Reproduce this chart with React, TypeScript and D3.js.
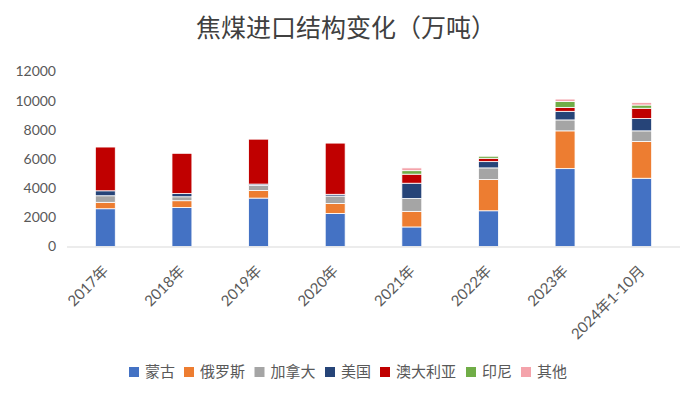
import * as d3 from "d3";
import React, { useEffect, useRef } from "react";

// Categories and series (万吨)
const categories = [
  "2017年",
  "2018年",
  "2019年",
  "2020年",
  "2021年",
  "2022年",
  "2023年",
  "2024年1-10月",
];
const mongolia = [2590, 2680, 3320, 2270, 1340, 2450, 5340, 4680];
const russia = [440, 460, 520, 680, 1070, 2140, 2590, 2520];
const canada = [450, 270, 340, 510, 880, 800, 750, 730];
const usa = [340, 220, 100, 120, 1050, 430, 590, 840];
const australia = [3000, 2760, 3080, 3510, 620, 230, 270, 710];
const indonesia = [0, 0, 0, 0, 240, 150, 410, 220];
const others = [0, 0, 0, 0, 190, 50, 160, 180];

const seriesNames = ["蒙古", "俄罗斯", "加拿大", "美国", "澳大利亚", "印尼", "其他"];
const seriesValues = [mongolia, russia, canada, usa, australia, indonesia, others];
const yTicks = [0, 2000, 4000, 6000, 8000, 10000, 12000];

const palette = [
  "#4472C4",
  "#ED7D31",
  "#A5A5A5",
  "#264478",
  "#C00000",
  "#70AD47",
  "#F4A3AB",
];

const CJK = '"Noto Sans CJK SC", "Noto Sans", sans-serif';
const NUM = 'Lato, "Noto Sans CJK SC", sans-serif';

const App: React.FC = () => {
  const svgRef = useRef<SVGSVGElement>(null);

  useEffect(() => {
    if (!svgRef.current) return;
    const width = 700;
    const height = 398;

    const svg = d3.select(svgRef.current);
    svg.selectAll("*").remove();
    svg.attr("width", width).attr("height", height).style("background", "#fff");

    const x = d3
      .scaleBand()
      .domain(categories)
      .range([67, 680])
      .paddingInner(0.74)
      .paddingOuter(0.37);

    const y = d3.scaleLinear().domain([0, 12000]).range([246.5, 71.5]);

    // stack data
    const rows = categories.map((c, i) => {
      const obj: any = { category: c };
      seriesNames.forEach((s, k) => {
        obj[s] = seriesValues[k][i];
      });
      return obj;
    });
    const stacked = d3.stack().keys(seriesNames)(rows);

    // Title
    svg
      .append("text")
      .attr("x", 346)
      .attr("y", 37)
      .attr("text-anchor", "middle")
      .attr("fill", "#404040")
      .style("font-family", CJK)
      .style("font-size", "25px")
      .text("焦煤进口结构变化（万吨）");

    // Y tick labels
    svg
      .append("g")
      .selectAll("text")
      .data(yTicks)
      .join("text")
      .attr("x", 56)
      .attr("y", (d) => y(d))
      .attr("dy", "0.35em")
      .attr("text-anchor", "end")
      .attr("fill", "#595959")
      .style("font-family", NUM)
      .style("font-size", "14px")
      .text((d) => String(d));

    // Bars
    svg
      .append("g")
      .selectAll("g")
      .data(stacked)
      .join("g")
      .attr("fill", (_, i) => palette[i])
      .selectAll("rect")
      .data((d) => d.filter((p) => p[1] - p[0] > 0))
      .join("rect")
      .attr("x", (d: any) => x(d.data.category) as number)
      .attr("width", x.bandwidth())
      .attr("y", (d) => y(d[1]))
      .attr("height", (d) => y(d[0]) - y(d[1]))
      .attr("stroke", "#fff")
      .attr("stroke-width", 0.8);

    // Baseline
    svg
      .append("line")
      .attr("x1", 67)
      .attr("x2", 680)
      .attr("y1", y(0) + 0.5)
      .attr("y2", y(0) + 0.5)
      .attr("stroke", "#d9d9d9")
      .attr("stroke-width", 1);

    // X labels, rotated
    svg
      .append("g")
      .selectAll("text")
      .data(categories)
      .join("text")
      .attr(
        "transform",
        (d) => `translate(${(x(d) as number) + x.bandwidth() / 2 + 4},272) rotate(-45)`,
      )
      .attr("text-anchor", "end")
      .attr("fill", "#595959")
      .style("font-family", NUM)
      .style("font-size", "15px")
      .text((d) => d);

    // Legend
    const counts = seriesNames.map((s) => s.length);
    let lx = 129;
    const legend = svg.append("g");
    seriesNames.forEach((s, i) => {
      const item = legend.append("g").attr("transform", `translate(${lx},0)`);
      item
        .append("rect")
        .attr("x", 0)
        .attr("y", 367)
        .attr("width", 10)
        .attr("height", 10)
        .attr("fill", palette[i]);
      item
        .append("text")
        .attr("x", 16)
        .attr("y", 372)
        .attr("dy", "0.36em")
        .attr("fill", "#595959")
        .style("font-family", CJK)
        .style("font-size", "15px")
        .text(s);
      lx += counts[i] * 15.5 + 24;
    });
  }, []);

  return (
    <svg
      ref={svgRef}
      style={{ position: "absolute", left: 0, top: 0, display: "block" }}
    />
  );
};

export default App;
